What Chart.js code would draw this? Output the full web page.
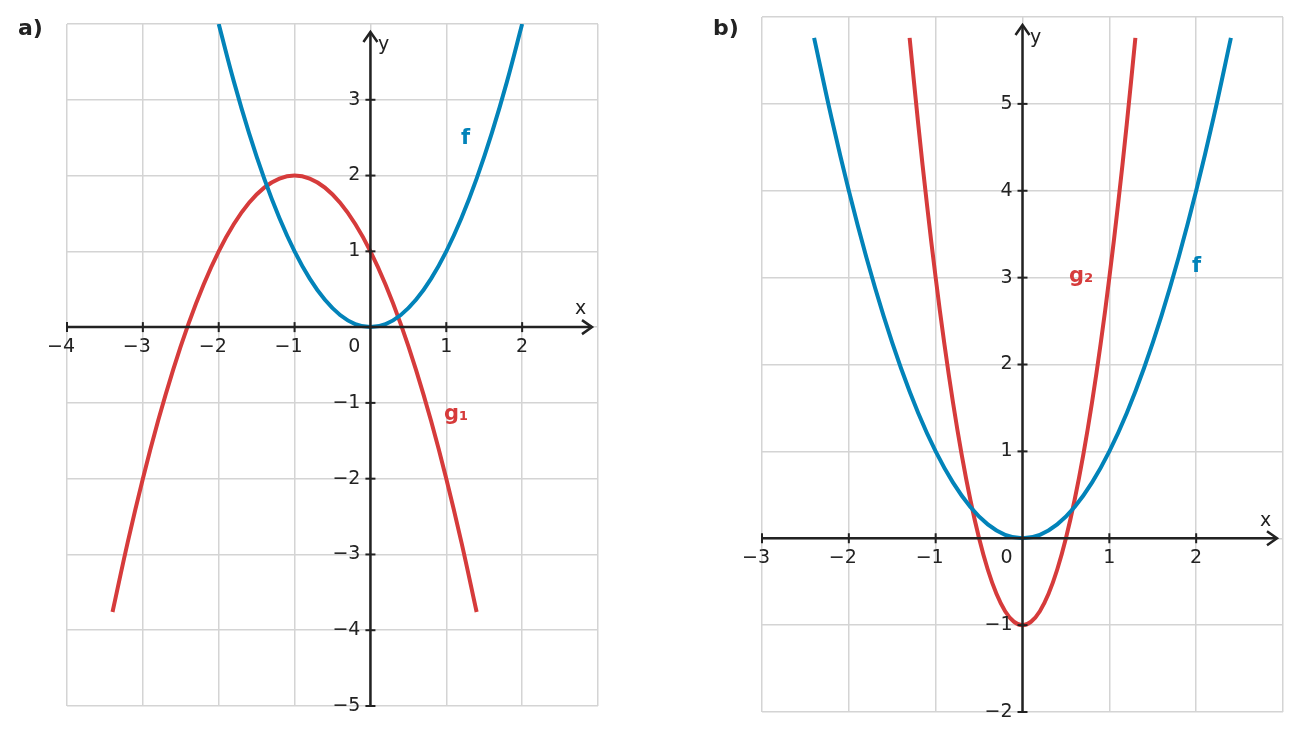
<!DOCTYPE html>
<html><head><meta charset="utf-8">
<script src="https://cdn.jsdelivr.net/npm/chart.js@4/dist/chart.umd.min.js"></script>
<style>body{margin:0;background:#fff;width:1301px;height:741px;overflow:hidden;font-family:"DejaVu Sans"}
.box{position:absolute;top:0;height:741px}</style></head><body>
<div class="box" style="left:0;width:620px"><canvas id="ca"></canvas></div>
<div class="box" style="left:640px;width:661px"><canvas id="cb"></canvas></div>
<script>
const BLUE='#0283B9', RED='#D63B3B', INK='#222';
// Chart a
const fAx=[-2,-1.8,-1.6,-1.4,-1.2,-1,-0.8,-0.6,-0.4,-0.2,0,0.2,0.4,0.6,0.8,1,1.2,1.4,1.6,1.8,2];
const fAy=[4,3.24,2.56,1.96,1.44,1,0.64,0.36,0.16,0.04,0,0.04,0.16,0.36,0.64,1,1.44,1.96,2.56,3.24,4];
const g1x=[-3.4,-3.2,-3,-2.8,-2.6,-2.4,-2.2,-2,-1.8,-1.6,-1.4,-1.2,-1,-0.8,-0.6,-0.4,-0.2,0,0.2,0.4,0.6,0.8,1,1.2,1.4];
const g1y=[-3.76,-2.84,-2,-1.24,-0.56,0.04,0.56,1,1.36,1.64,1.84,1.96,2,1.96,1.84,1.64,1.36,1,0.56,0.04,-0.56,-1.24,-2,-2.84,-3.76];
const aXTicks=[-4,-3,-2,-1,1,2];
const aYTicks=[-5,-4,-3,-2,-1,1,2,3];
// Chart b
const fBx=[-2.4,-2.2,-2,-1.8,-1.6,-1.4,-1.2,-1,-0.8,-0.6,-0.4,-0.2,0,0.2,0.4,0.6,0.8,1,1.2,1.4,1.6,1.8,2,2.2,2.4];
const fBy=[5.76,4.84,4,3.24,2.56,1.96,1.44,1,0.64,0.36,0.16,0.04,0,0.04,0.16,0.36,0.64,1,1.44,1.96,2.56,3.24,4,4.84,5.76];
const g2x=[-1.3,-1.2,-1.1,-1,-0.9,-0.8,-0.7,-0.6,-0.5,-0.4,-0.3,-0.2,-0.1,0,0.1,0.2,0.3,0.4,0.5,0.6,0.7,0.8,0.9,1,1.1,1.2,1.3];
const g2y=[5.76,4.76,3.84,3,2.24,1.56,0.96,0.44,0,-0.36,-0.64,-0.84,-0.96,-1,-0.96,-0.84,-0.64,-0.36,0,0.44,0.96,1.56,2.24,3,3.84,4.76,5.76];
const bXTicks=[-3,-2,-1,1,2];
const bYTicks=[-2,-1,1,2,3,4,5];

const pts=(xs,ys)=>xs.map((x,i)=>({x,y:ys[i]}));
const fmt=v=>(v<0?'\u2212':'')+Math.abs(v);

function axesPlugin(cfg){return {id:'ax',afterDatasetsDraw(ch){
  const c=ch.ctx,sx=ch.scales.x,sy=ch.scales.y,a=ch.chartArea;
  const x0=sx.getPixelForValue(0),y0=sy.getPixelForValue(0);
  c.save();c.strokeStyle=INK;c.fillStyle=INK;c.lineWidth=2.5;
  c.beginPath();c.moveTo(a.left,y0);c.lineTo(a.right-6,y0);c.moveTo(x0,a.bottom);c.lineTo(x0,a.top+8);c.stroke();
  c.beginPath();c.moveTo(a.right-16,y0-7);c.lineTo(a.right-6,y0);c.lineTo(a.right-16,y0+7);c.stroke();
  c.beginPath();c.moveTo(x0-7,a.top+18);c.lineTo(x0,a.top+8);c.lineTo(x0+7,a.top+18);c.stroke();
  c.font='19px "DejaVu Sans"';c.lineWidth=2;
  cfg.xt.forEach(v=>{const p=sx.getPixelForValue(v);c.beginPath();c.moveTo(p,y0-5);c.lineTo(p,y0+5);c.stroke();
    c.textAlign='center';c.textBaseline='top';c.fillText(fmt(v),p-(v<0?6:0),y0+10);});
  cfg.yt.forEach(v=>{const p=sy.getPixelForValue(v);c.beginPath();c.moveTo(x0-5,p);c.lineTo(x0+5,p);c.stroke();
    c.textAlign='right';c.textBaseline='middle';c.fillText(fmt(v),x0-10,p);});
  c.textAlign='right';c.textBaseline='top';c.fillText('0',x0-10,y0+10);
  c.textAlign='left';c.textBaseline='alphabetic';
  c.fillText('x',cfg.xl[0],cfg.xl[1]);c.fillText('y',cfg.yl[0],cfg.yl[1]);
  c.font='bold 21px "DejaVu Sans"';
  cfg.labels.forEach(l=>{c.fillStyle=l[3];c.fillText(l[0],l[1],l[2]);});
  c.restore();}};}

function make(id,cfg){
  new Chart(document.getElementById(id),{type:'line',
    data:{datasets:cfg.sets.map(s=>({data:pts(s[0],s[1]),borderColor:s[2],borderWidth:4,pointRadius:0,tension:0.4,fill:false}))},
    options:{responsive:true,maintainAspectRatio:false,animation:false,parsing:false,
      layout:{padding:cfg.pad},
      plugins:{legend:{display:false},tooltip:{enabled:false}},
      scales:{x:{type:'linear',min:cfg.xr[0],max:cfg.xr[1],ticks:{display:false,stepSize:1},border:{display:false},grid:{color:'#d4d4d4',lineWidth:1.5,drawTicks:false}},
              y:{type:'linear',min:cfg.yr[0],max:cfg.yr[1],ticks:{display:false,stepSize:1},border:{display:false},grid:{color:'#d4d4d4',lineWidth:1.5,drawTicks:false}}}},
    plugins:[axesPlugin(cfg),{id:'t',afterDraw(ch){const c=ch.ctx;c.save();c.font='bold 22px "DejaVu Sans"';c.fillStyle=INK;c.fillText(cfg.title[0],cfg.title[1],cfg.title[2]);c.restore();}}]});
}
make('ca',{pad:{left:67,right:22,top:24,bottom:35},xr:[-4,3],yr:[-5,4],xt:aXTicks,yt:aYTicks,
  sets:[[fAx,fAy,BLUE],[g1x,g1y,RED]],xl:[575,314],yl:[378,50],
  labels:[['f',461,144,BLUE],['g\u2081',444,420,RED]],title:['a)',18,35]});
make('cb',{pad:{left:122,right:18,top:17,bottom:29},xr:[-3,3],yr:[-2,6],xt:bXTicks,yt:bYTicks,
  sets:[[fBx,fBy,BLUE],[g2x,g2y,RED]],xl:[620,526],yl:[390,43],
  labels:[['f',552,272,BLUE],['g\u2082',429,282,RED]],title:['b)',73,35]});
</script></body></html>
